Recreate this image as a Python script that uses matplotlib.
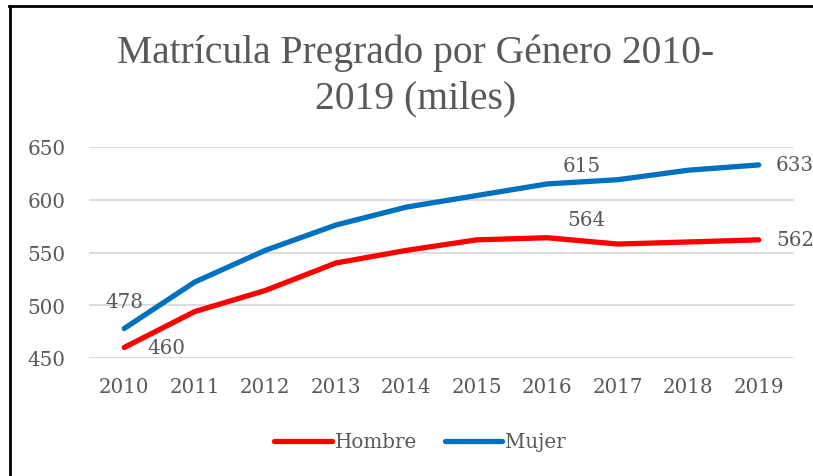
import matplotlib
matplotlib.use("Agg")
import matplotlib.pyplot as plt
from matplotlib.lines import Line2D

years = ["2010", "2011", "2012", "2013", "2014", "2015", "2016", "2017", "2018", "2019"]
hombre = [460, 494, 514, 540, 552, 562, 564, 558, 560, 562]
mujer = [478, 522, 552, 576, 593, 604, 615, 619, 628, 633]
yticks = [450, 500, 550, 600, 650]
title_lines = ["Matrícula Pregrado por Género 2010-", "2019 (miles)"]

W, H = 813, 477
fig = plt.figure(figsize=(W / 100, H / 100), dpi=100)
ax = fig.add_axes([89 / W, 1 - 359 / H, (794 - 89) / W, (359 - 148) / H])

gray = "#595959"
red = "#FF0000"
blue = "#0070C0"
serif = ["DejaVu Serif"]

x = list(range(len(years)))
ax.plot(x, hombre, color=red, lw=3.8, solid_capstyle="round", label="Hombre", zorder=3)
ax.plot(x, mujer, color=blue, lw=3.8, solid_capstyle="round", label="Mujer", zorder=3)

ax.set_xlim(-0.5, len(years) - 0.5)
ax.set_ylim(450, 650)
ax.set_yticks(yticks)
ax.set_xticks(x)
ax.set_xticklabels(years)
ax.grid(axis="y", color="#D9D9D9", lw=1.3)
ax.set_axisbelow(True)
for s in ax.spines.values():
    s.set_visible(False)
ax.tick_params(length=0, labelsize=14.3, labelcolor=gray, pad=0)
ax.tick_params(axis="y", pad=17)
ax.tick_params(axis="x", pad=14)
for lab in ax.get_xticklabels() + ax.get_yticklabels():
    lab.set_family(serif)

def label(i, series, dx, dy, ha):
    ax.annotate(str(series[i]), (i, series[i]), xytext=(dx, dy), textcoords="offset pixels",
                ha=ha, va="center", fontsize=14.3, color=gray, family=serif, annotation_clip=False)

label(0, mujer, 0, 27, "center")
label(0, hombre, 23, 0, "left")
label(6, mujer, 34, 18, "center")
label(6, hombre, 39, 18, "center")
label(9, mujer, 17, 0, "left")
label(9, hombre, 17, 0, "left")

for line, base in zip(title_lines, [63, 108]):
    fig.text(416 / W, 1 - base / H, line, ha="center", va="baseline",
             fontsize=28.5, color=gray, family=["Liberation Serif", "DejaVu Serif"])

leg = fig.legend(loc="center", bbox_to_anchor=(420 / W, 1 - 443 / H), ncol=2, frameon=False,
                 prop={"family": serif, "size": 14.3}, handlelength=2.9, handletextpad=0.15,
                 columnspacing=1.4)
for t in leg.get_texts():
    t.set_color(gray)

fig.add_artist(Line2D([10 / W, 10 / W], [0, 1 - 7 / H], color="black", lw=2, transform=fig.transFigure))
fig.add_artist(Line2D([9 / W, 1], [1 - 7 / H, 1 - 7 / H], color="black", lw=2, transform=fig.transFigure))

fig.savefig("out.png", dpi=100)
